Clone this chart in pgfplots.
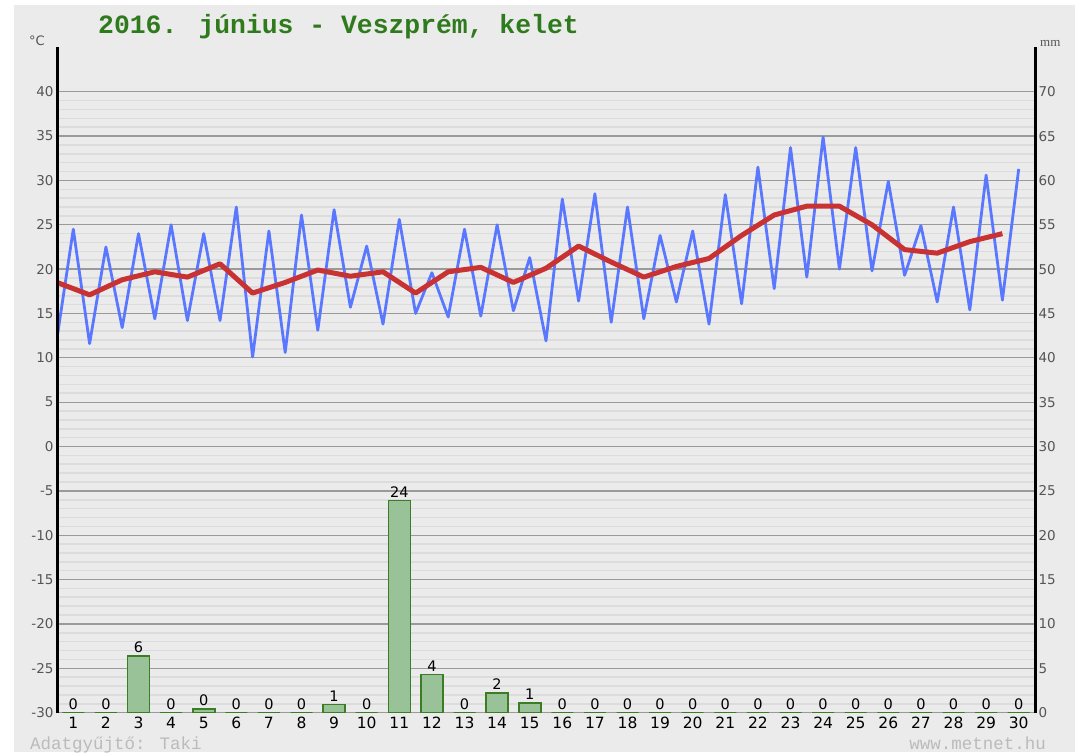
\documentclass[border=0pt]{standalone}
\usepackage{fontspec}
\setmainfont{DejaVu Sans}
\newfontfamily\monofont{Liberation Mono}
\newfontfamily\seriffont{Liberation Serif}
\usepackage{pgfplots}
\pgfplotsset{compat=1.18}
\definecolor{bg}{HTML}{EBEBEB}
\definecolor{majgrid}{HTML}{9A9A9A}
\definecolor{mingrid}{HTML}{DCDCDC}
\definecolor{ticklab}{HTML}{555555}
\definecolor{tmaxmin}{HTML}{5A78FF}
\definecolor{tmean}{HTML}{C83232}
\definecolor{barfill}{HTML}{99C299}
\definecolor{bardraw}{HTML}{3A7D22}
\definecolor{titlegreen}{HTML}{2F7A1C}
\definecolor{footgray}{HTML}{BBBBBB}

\pgfplotstableread{
x T
0.5 12.2
1 24.5
1.5 11.6
2 22.5
2.5 13.4
3 24.0
3.5 14.4
4 25.0
4.5 14.2
5 24.0
5.5 14.2
6 27.0
6.5 10.1
7 24.3
7.5 10.6
8 26.1
8.5 13.1
9 26.7
9.5 15.7
10 22.6
10.5 13.8
11 25.6
11.5 15.0
12 19.6
12.5 14.6
13 24.5
13.5 14.7
14 25.0
14.5 15.3
15 21.3
15.5 11.9
16 27.9
16.5 16.4
17 28.5
17.5 14.0
18 27.0
18.5 14.4
19 23.8
19.5 16.3
20 24.3
20.5 13.8
21 28.4
21.5 16.1
22 31.5
22.5 17.8
23 33.7
23.5 19.1
24 34.9
24.5 20.0
25 33.7
25.5 19.8
26 29.9
26.5 19.3
27 24.9
27.5 16.3
28 27.0
28.5 15.4
29 30.6
29.5 16.5
30 31.3
}\minmax

\pgfplotstableread{
x T
0.5 18.5
1.5 17.1
2.5 18.8
3.5 19.7
4.5 19.1
5.5 20.6
6.5 17.3
7.5 18.5
8.5 19.9
9.5 19.2
10.5 19.7
11.5 17.3
12.5 19.7
13.5 20.2
14.5 18.5
15.5 20.1
16.5 22.6
17.5 20.8
18.5 19.1
19.5 20.3
20.5 21.2
21.5 23.8
22.5 26.1
23.5 27.1
24.5 27.1
25.5 25.0
26.5 22.2
27.5 21.8
28.5 23.1
29.5 24.0
}\mean

\pgfplotstableread{
d P
1 0
2 0
3 6.4
4 0
5 0.4
6 0
7 0
8 0
9 0.9
10 0
11 23.9
12 4.3
13 0
14 2.2
15 1.1
16 0
17 0
18 0
19 0
20 0
21 0
22 0
23 0
24 0
25 0
26 0
27 0
28 0
29 0
30 0
}\precip

\begin{document}
\begin{tikzpicture}
\fill[white] (0pt,0pt) rectangle (1075pt,752pt);
\fill[bg] (14pt,0pt) rectangle (1075pt,747pt);
\path[use as bounding box] (0pt,0pt) rectangle (1075pt,752pt);

\begin{axis}[
  at={(57pt,39.4pt)}, anchor=south west,
  width=978pt, height=665.2pt, scale only axis,
  /pgf/number format/assume math mode=true,
  xmin=0.5, xmax=30.5, ymin=-30, ymax=45,
  xtick={1,...,30},
  xticklabel style={font=\fontsize{15.5}{16}\selectfont, text=black, yshift=-1pt},
  ytick={-30,-25,...,40},
  yticklabels={-30,-25,-20,-15,-10,-5,0,5,10,15,20,25,30,35,40},
  yticklabel style={font=\fontsize{13.5}{14}\selectfont, text=ticklab},
  minor y tick num=4,
  ymajorgrids, yminorgrids,
  major grid style={color=majgrid, line width=1.3pt},
  minor grid style={color=mingrid, line width=1.6pt},
  extra y ticks={0}, extra y tick labels={},
  extra y tick style={grid style={black, line width=2pt}},
  axis line style={draw=none},
  major tick length=0pt, minor tick length=0pt,
  axis background/.style={fill=bg},
]
\addplot[tmaxmin, line width=2.8pt, line join=round] table[x=x,y=T] {\minmax};
\addplot[tmean, line width=5pt, line join=round] table[x=x,y=T] {\mean};
\end{axis}

\begin{axis}[
  at={(57pt,39.4pt)}, anchor=south west,
  width=978pt, height=665.2pt, scale only axis,
  /pgf/number format/assume math mode=true,
  xmin=0.5, xmax=30.5, ymin=0, ymax=75,
  axis y line*=right, axis x line=none,
  ytick={0,5,...,70},
  yticklabel style={font=\fontsize{13.5}{14}\selectfont, text=ticklab},
  major tick length=0pt,
  axis line style={draw=none},
  ybar, bar width=22pt, bar shift=0pt,
  nodes near coords={\pgfmathprintnumber[fixed,precision=0,assume math mode=true]{\pgfplotspointmeta}},
  nodes near coords style={font=\fontsize{14.5}{15}\selectfont, text=black, inner sep=2.5pt},
  clip=false,
]
\addplot[fill=barfill, draw=bardraw, line width=1.6pt] table[x=d,y=P] {\precip};
\draw[black, line width=3pt] (rel axis cs:0,0) -- (rel axis cs:0,1);
\draw[black, line width=3pt] (rel axis cs:1,0) -- (rel axis cs:1,1);
\end{axis}

\node[anchor=base west, font=\monofont\bfseries\fontsize{26.4}{27}\selectfont, text=titlegreen, inner sep=0pt] at (98pt,718pt) {2016. június - Veszprém, kelet};
\node[anchor=base west, font=\fontsize{13}{13}\selectfont, text=ticklab, inner sep=0pt] at (29pt,706pt) {°C};
\node[anchor=base west, font=\seriffont\fontsize{13}{13}\selectfont, text=ticklab, inner sep=0pt] at (1040pt,705pt) {mm};
\node[anchor=base west, font=\monofont\fontsize{17.5}{18}\selectfont, text=footgray, inner sep=0pt] at (30pt,3pt) {Adatgyűjtő: Taki};
\node[anchor=base east, font=\monofont\fontsize{17.5}{18}\selectfont, text=footgray, inner sep=0pt] at (1046pt,3pt) {www.metnet.hu};
\end{tikzpicture}
\end{document}
